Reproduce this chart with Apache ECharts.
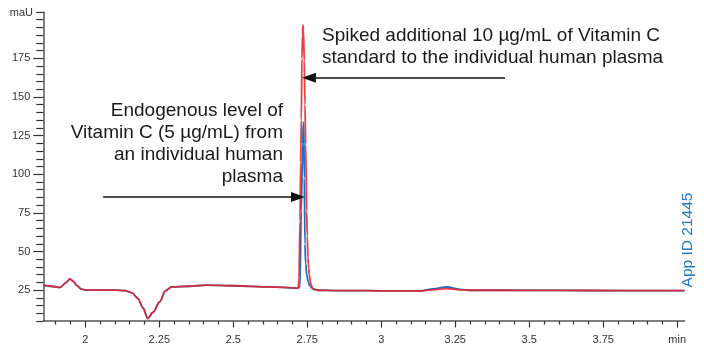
<!DOCTYPE html>
<html><head><meta charset="utf-8">
<script src="https://cdn.jsdelivr.net/npm/echarts@6/dist/echarts.min.js"></script>
<style>html,body{margin:0;padding:0;background:#fff}#c{width:704px;height:349px}</style>
</head><body><div id="c"></div>
<script>
// Retention time (min) and absorbance (mAU)
const redTime = [1.858,1.885,1.915,1.935,1.948,1.960,1.971,1.985,2.000,2.050,2.100,2.135,2.158,2.178,2.195,2.211,2.228,2.252,2.270,2.292,2.350,2.410,2.500,2.624,2.714,2.7195,2.7220,2.7253,2.7277,2.7297,2.7321,2.7338,2.7355,2.7372,2.7399,2.7422,2.7446,2.7480,2.7500,2.7524,2.7547,2.7568,2.7608,2.7649,2.7693,2.7760,2.7861,2.850,2.950,3.050,3.131,3.175,3.221,3.266,3.300,3.400,3.600,3.800,4.025];
const redAbs  = [28.0,27.5,26.8,29.8,32.3,30.5,28.0,25.8,25.0,25.0,25.0,24.6,23.2,19.5,13.5,6.6,10.5,17.5,24.5,27.1,27.5,28.2,27.8,27.1,26.3,26.5,33.0,70.0,108.0,135.0,175.0,190.0,196.5,193.0,173.5,145.0,119.5,76.0,60.0,46.0,39.0,35.0,30.0,27.6,26.0,25.4,24.9,24.7,24.6,24.5,24.5,25.2,26.0,25.2,24.9,24.9,24.8,24.7,24.6];
const blueTime = [1.858,1.885,1.915,1.935,1.948,1.960,1.971,1.985,2.000,2.050,2.100,2.135,2.158,2.178,2.195,2.211,2.228,2.252,2.270,2.292,2.350,2.410,2.500,2.624,2.714,2.7195,2.7253,2.7297,2.7345,2.7365,2.7378,2.7399,2.7422,2.7446,2.7480,2.7524,2.7591,2.7693,2.7760,2.7861,2.850,2.950,3.050,3.131,3.175,3.221,3.266,3.300,3.400,3.600,3.800,4.025];
const blueAbs  = [28.0,27.5,26.8,29.8,32.3,30.5,28.0,25.8,25.0,25.0,25.0,24.6,23.2,19.5,13.5,6.6,10.5,17.5,24.5,27.1,27.5,28.2,27.8,27.1,26.3,26.5,27.0,76.0,119.6,132.6,133.5,97.8,54.8,42.0,35.2,31.0,27.6,25.8,25.3,24.9,24.7,24.6,24.5,24.5,25.8,27.0,25.5,24.9,24.9,24.8,24.7,24.6];
const xLabelTicks = [2,2.25,2.5,2.75,3,3.25,3.5,3.75,4];
const xMinorTicks = [1.9,1.95,2.05,2.1,2.15,2.2,2.3,2.35,2.4,2.45,2.55,2.6,2.65,2.7,2.8,2.85,2.9,2.95,3.05,3.1,3.15,3.2,3.3,3.35,3.4,3.45,3.55,3.6,3.65,3.7,3.8,3.85,3.9,3.95];
const yLabelTicks = [25,50,75,100,125,150,175];
const yMinorTicks = [5,10,15,20,30,35,40,45,55,60,65,70,80,85,90,95,105,110,115,120,130,135,140,145,155,160,165,170,180,185,190,195,200,205];

const FONT = '"Liberation Sans", Arial, Helvetica, sans-serif';
const AXC = '#555';
const chart = echarts.init(document.getElementById('c'), null, {renderer:'canvas'});
const zip = (t, v) => t.map((x, i) => [x, v[i]]);

const xCommon = {type:'value', min:1.858, max:4.025, position:'bottom', gridIndex:0,
  splitLine:{show:false}, axisPointer:{show:false}};
const yCommon = {type:'value', min:5, max:205, position:'left', gridIndex:0,
  splitLine:{show:false}};

chart.setOption({
  animation:false,
  backgroundColor:'#fff',
  grid:{left:43.3, right:19.4, top:12, bottom:28, containLabel:false},
  xAxis:[
    Object.assign({}, xCommon, {
      axisLine:{show:true, lineStyle:{color:AXC, width:1.5}},
      axisTick:{show:true, customValues:xLabelTicks, length:6.5, lineStyle:{color:'#333', width:1.2}},
      axisLabel:{show:true, customValues:xLabelTicks, margin:13, fontSize:11, color:'#333', fontFamily:FONT,
        formatter:v => (Math.abs(v-4)<1e-9 ? 'min' : String(v))}
    }),
    Object.assign({}, xCommon, {
      axisLine:{show:false},
      axisTick:{show:true, customValues:xMinorTicks, length:3.5, lineStyle:{color:'#333', width:1.2}},
      axisLabel:{show:false}
    })
  ],
  yAxis:[
    Object.assign({}, yCommon, {
      axisLine:{show:true, lineStyle:{color:AXC, width:1.5}},
      axisTick:{show:true, customValues:yLabelTicks, length:10, lineStyle:{color:'#333', width:1.2}},
      axisLabel:{show:true, customValues:yLabelTicks, margin:13, fontSize:11, color:'#333', fontFamily:FONT}
    }),
    Object.assign({}, yCommon, {
      axisLine:{show:false},
      axisTick:{show:true, customValues:yMinorTicks, length:7, lineStyle:{color:'#333', width:1.2}},
      axisLabel:{show:false}
    })
  ],
  series:[
    {type:'line', name:'Endogenous', xAxisIndex:0, yAxisIndex:0, data:zip(blueTime, blueAbs),
      showSymbol:false, symbol:'none', smooth:0.3, smoothMonotone:'x',
      lineStyle:{color:'#1f6fc0', width:1.8}, z:2},
    {type:'line', name:'Spiked', xAxisIndex:0, yAxisIndex:0, data:zip(redTime, redAbs),
      showSymbol:false, symbol:'none', smooth:0.3, smoothMonotone:'x',
      lineStyle:{color:'#e8232b', width:1.8, opacity:0.88}, z:3,
      markLine:{silent:true, symbol:['none','triangle'], symbolSize:[10,14], animation:false,
        label:{show:false},
        lineStyle:{color:'#111', width:1.6, type:'solid'},
        data:[
          [{coord:[2.060, 85.3]}, {coord:[2.7186, 85.3]}],
          [{coord:[3.418, 162.5]}, {coord:[2.7557, 162.5]}]
        ]}
    }
  ],
  graphic:[
    {type:'text', x:33, y:13, style:{text:'maU', font:'11px '+FONT, fill:'#333', textAlign:'right', textVerticalAlign:'middle'}},
    {type:'text', x:283, y:100, style:{text:'Endogenous level of\nVitamin C (5 µg/mL) from\nan individual human\nplasma', font:'19px '+FONT, fill:'#1a1a1a', textAlign:'right', textVerticalAlign:'top', lineHeight:22}},
    {type:'text', x:322, y:25, style:{text:'Spiked additional 10 µg/mL of Vitamin C\nstandard to the individual human plasma', font:'19px '+FONT, fill:'#1a1a1a', textAlign:'left', textVerticalAlign:'top', lineHeight:22}},
    {type:'text', x:688, y:240, rotation:Math.PI/2, style:{text:'App ID 21445', font:'15.5px '+FONT, fill:'#2278c6', textAlign:'center', textVerticalAlign:'middle'}}
  ]
});
</script>
</body></html>
